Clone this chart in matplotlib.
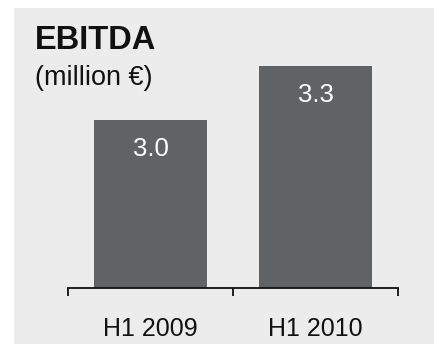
import matplotlib
matplotlib.use("Agg")
import matplotlib.pyplot as plt
from matplotlib.patches import Rectangle
from matplotlib.ticker import FixedLocator, NullFormatter

categories = ["H1 2009", "H1 2010"]
ebitda = [3.0, 3.3]
value_labels = ["3.0", "3.3"]
title = "EBITDA"
subtitle = "(million €)"

W, H = 434, 344
DPI = 100
panel_color = "#ebeceb"
bar_color = "#5f6366"

plt.rcParams["font.family"] = ["Liberation Sans", "DejaVu Sans"]

fig = plt.figure(figsize=(W / DPI, H / DPI), dpi=DPI)
fig.patch.set_facecolor("white")
fig.patches.append(Rectangle((14 / W, 0), 1 - 14 / W, (H - 8) / H,
                             transform=fig.transFigure, facecolor=panel_color,
                             edgecolor="none", zorder=-1))

# axes placed in pixel units
left, right = 68, 398
bottom, top = 287.5, 20
ax = fig.add_axes([left / W, 1 - bottom / H, (right - left) / W, (bottom - top) / H])
ax.set_facecolor("none")

x = list(range(len(categories)))
bars = ax.bar(x, ebitda, width=0.68, color=bar_color, zorder=2)
ax.set_xlim(-0.5, len(categories) - 0.5)
ymin = 2.07
ax.set_ylim(ymin, ymin + (bottom - top) / 180)

for b, v, lab in zip(bars, ebitda, value_labels):
    ax.annotate(lab, (b.get_x() + b.get_width() / 2, v), xytext=(0, -20.5),
                textcoords="offset points", ha="center", va="center",
                color="white", fontsize=18.5)

for s in ["top", "right", "left"]:
    ax.spines[s].set_visible(False)
ax.spines["bottom"].set_linewidth(1.3)
ax.spines["bottom"].set_color("#111111")
ax.set_yticks([])

ax.xaxis.set_major_locator(FixedLocator([-0.5, 0.5, 1.5]))
ax.xaxis.set_major_formatter(NullFormatter())
ax.tick_params(axis="x", which="major", direction="out", length=6, width=1.3, color="#111111")
ax.set_xticks(x, minor=True)
ax.set_xticklabels(categories, minor=True, fontsize=18, color="#111111")
ax.tick_params(axis="x", which="minor", length=0, pad=21.5)

fig.text(35 / W, 1 - 49 / H, title, fontsize=23.5, fontweight="bold", color="#111111",
         ha="left", va="baseline")
fig.text(35 / W, 1 - 85 / H, subtitle, fontsize=19.5, color="#111111",
         ha="left", va="baseline")

fig.savefig("out.png", dpi=DPI)
